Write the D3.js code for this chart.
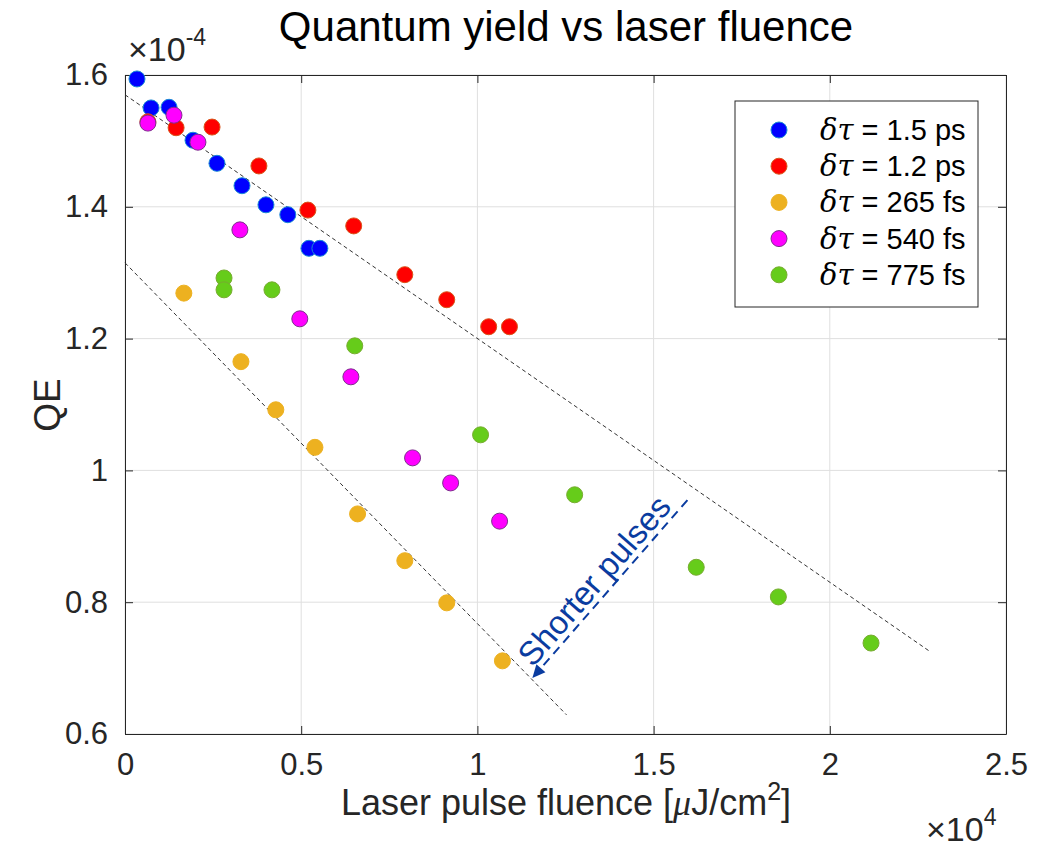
<!DOCTYPE html>
<html>
<head>
<meta charset="utf-8">
<script src="https://cdn.jsdelivr.net/npm/d3@7"></script>
<style>
  body { margin: 0; background: #fff; }
  svg { font-family: "Liberation Sans", Arial, Helvetica, sans-serif; }
</style>
</head>
<body>
<svg id="chart" width="1051" height="848"></svg>
<script>
// fluence in uJ/cm^2, QE in units of 1e-4
const fl_15ps = [340, 740, 1250, 1930, 2610, 3320, 4000, 4620, 5220, 5530];
const qe_15ps = [1.594, 1.550, 1.551, 1.501, 1.466, 1.432, 1.403, 1.388, 1.337, 1.337];

const fl_12ps = [650, 1450, 2470, 3800, 5190, 6490, 7940, 9130, 10320, 10910];
const qe_12ps = [1.529, 1.520, 1.521, 1.462, 1.395, 1.371, 1.297, 1.259, 1.218, 1.218];

const fl_265fs = [1670, 3290, 4280, 5390, 6600, 7940, 9130, 10710];
const qe_265fs = [1.269, 1.165, 1.092, 1.035, 0.934, 0.863, 0.799, 0.711];

const fl_540fs = [650, 1390, 2070, 3260, 4960, 6410, 8160, 9240, 10630];
const qe_540fs = [1.527, 1.539, 1.498, 1.365, 1.230, 1.142, 1.019, 0.981, 0.923];

const fl_775fs = [2810, 2810, 4170, 6520, 10090, 12760, 16210, 18540, 21170];
const qe_775fs = [1.292, 1.274, 1.274, 1.189, 1.054, 0.963, 0.853, 0.808, 0.738];

const seriesNames = ["1.5 ps", "1.2 ps", "265 fs", "540 fs", "775 fs"];
const seriesFill = ["#0000ff", "#ff0000", "#edb120", "#ff00ff", "#66cc1a"];
const seriesEdge = ["#1a8ad4", "#d95319", "#edb120", "#7e2f8e", "#77ac30"];
const seriesX = [fl_15ps, fl_12ps, fl_265fs, fl_540fs, fl_775fs];
const seriesY = [qe_15ps, qe_12ps, qe_265fs, qe_540fs, qe_775fs];

// guide lines (dashed) and annotation arrow
const fitUpperX = [0, 22820];
const fitUpperY = [1.570, 0.726];
const fitLowerX = [0, 12530];
const fitLowerY = [1.315, 0.629];
const arrowX = [15960, 11560];
const arrowY = [0.955, 0.685];

const xTicks = [0, 5000, 10000, 15000, 20000, 25000];
const yTicks = [0.6, 0.8, 1.0, 1.2, 1.4, 1.6];

const svg = d3.select("#chart");
const mLeft = 125, mRight = 1006, mTop = 75, mBottom = 734;

const x = d3.scaleLinear().domain([0, 25000]).range([mLeft, mRight]);
const y = d3.scaleLinear().domain([0.6, 1.6]).range([mBottom, mTop]);

// grid
const grid = svg.append("g");
grid.selectAll("line.gx").data(xTicks).join("line")
  .attr("x1", d => x(d)).attr("x2", d => x(d))
  .attr("y1", mTop).attr("y2", mBottom)
  .attr("stroke", "#dfdfdf").attr("stroke-width", 1);
grid.selectAll("line.gy").data(yTicks).join("line")
  .attr("y1", d => y(d)).attr("y2", d => y(d))
  .attr("x1", mLeft).attr("x2", mRight)
  .attr("stroke", "#dfdfdf").attr("stroke-width", 1);

// axes (MATLAB style, ticks inside)
const fmtX = d => d3.format("")(d / 10000);
const fmtY = d => (d === 1 ? "1" : d3.format(".1f")(d));

svg.append("g").attr("transform", `translate(0,${mBottom})`)
  .call(d3.axisBottom(x).tickValues(xTicks).tickFormat(fmtX).tickSizeInner(-8).tickSizeOuter(0).tickPadding(19))
  .call(g => g.select(".domain").attr("stroke", "#262626"))
  .call(g => g.selectAll("line").attr("stroke", "#262626"))
  .call(g => g.selectAll("text").attr("font-size", 31).attr("fill", "#262626").attr("font-family", "Liberation Sans, Arial"));

svg.append("g").attr("transform", `translate(${mLeft},0)`)
  .call(d3.axisLeft(y).tickValues(yTicks).tickFormat(fmtY).tickSizeInner(-8).tickSizeOuter(0).tickPadding(17))
  .call(g => g.select(".domain").attr("stroke", "#262626"))
  .call(g => g.selectAll("line").attr("stroke", "#262626"))
  .call(g => g.selectAll("text").attr("font-size", 31).attr("fill", "#262626").attr("font-family", "Liberation Sans, Arial"));

svg.append("g").attr("transform", `translate(0,${mTop})`)
  .call(d3.axisTop(x).tickValues(xTicks).tickFormat("").tickSizeInner(-8).tickSizeOuter(0))
  .call(g => g.selectAll("path,line").attr("stroke", "#262626"));
svg.append("g").attr("transform", `translate(${mRight},0)`)
  .call(d3.axisRight(y).tickValues(yTicks).tickFormat("").tickSizeInner(-8).tickSizeOuter(0))
  .call(g => g.selectAll("path,line").attr("stroke", "#262626"));

// dashed guide lines
const line = d3.line().x(d => x(d[0])).y(d => y(d[1]));
svg.append("path").datum(d3.zip(fitUpperX, fitUpperY)).attr("d", line)
  .attr("fill", "none").attr("stroke", "#333").attr("stroke-width", 1).attr("stroke-dasharray", "4,3");
svg.append("path").datum(d3.zip(fitLowerX, fitLowerY)).attr("d", line)
  .attr("fill", "none").attr("stroke", "#333").attr("stroke-width", 1).attr("stroke-dasharray", "4,3");

// points
seriesX.forEach((xs, i) => {
  svg.append("g").selectAll("circle").data(d3.zip(xs, seriesY[i])).join("circle")
    .attr("cx", d => x(d[0])).attr("cy", d => y(d[1])).attr("r", 8)
    .attr("fill", seriesFill[i]).attr("stroke", seriesEdge[i]).attr("stroke-width", 1);
});

// annotation arrow
const ax0 = x(arrowX[0]), ay0 = y(arrowY[0]), ax1 = x(arrowX[1]), ay1 = y(arrowY[1]);
const ang = Math.atan2(ay1 - ay0, ax1 - ax0);
const headLen = 13, headW = 6;
const bx = ax1 - headLen * Math.cos(ang), by = ay1 - headLen * Math.sin(ang);
svg.append("line").attr("x1", ax0).attr("y1", ay0).attr("x2", bx).attr("y2", by)
  .attr("stroke", "#0a3ca0").attr("stroke-width", 2).attr("stroke-dasharray", "9,6");
svg.append("path")
  .attr("d", `M${ax1},${ay1} L${bx + headW * Math.sin(ang)},${by - headW * Math.cos(ang)} L${bx - headW * Math.sin(ang)},${by + headW * Math.cos(ang)} Z`)
  .attr("fill", "#0a3ca0");
const deg = ang * 180 / Math.PI + 180;
const mx = (ax0 + ax1) / 2, my = (ay0 + ay1) / 2;
svg.append("text")
  .attr("transform", `translate(${mx},${my}) rotate(${deg})`)
  .attr("x", -4).attr("y", -6)
  .attr("text-anchor", "middle").attr("font-size", 33).attr("fill", "#0a3ca0")
  .text("Shorter pulses");

// legend
const lg = svg.append("g");
lg.append("rect").attr("x", 735).attr("y", 101).attr("width", 243).attr("height", 206)
  .attr("fill", "#fff").attr("stroke", "#262626").attr("stroke-width", 1);
seriesNames.forEach((name, i) => {
  const ly = 130 + i * 36.2;
  lg.append("circle").attr("cx", 779).attr("cy", ly).attr("r", 8)
    .attr("fill", seriesFill[i]).attr("stroke", seriesEdge[i]);
  const t = lg.append("text").attr("x", 820).attr("y", ly + 10).attr("font-size", 29).attr("fill", "#000");
  t.append("tspan").attr("font-family", "DejaVu Serif, Liberation Serif, serif").attr("font-style", "italic").text("δτ");
  t.append("tspan").text(" = " + name);
});

// title and labels
svg.append("text").attr("x", 566).attr("y", 41).attr("text-anchor", "middle")
  .attr("font-size", 42).attr("fill", "#000").text("Quantum yield vs laser fluence");

const xl = svg.append("text").attr("x", 566).attr("y", 815).attr("text-anchor", "middle")
  .attr("font-size", 36).attr("fill", "#262626");
xl.append("tspan").text("Laser pulse fluence [");
xl.append("tspan").attr("font-family", "Liberation Serif, serif").attr("font-style", "italic").text("μ");
xl.append("tspan").text("J/cm");
xl.append("tspan").attr("font-size", 25).attr("dy", -15).text("2");
xl.append("tspan").attr("dy", 15).text("]");

svg.append("text").attr("transform", "translate(60,405) rotate(-90)").attr("text-anchor", "middle")
  .attr("font-size", 37).attr("fill", "#262626").text("QE");

// exponent labels
const ex = svg.append("text").attr("x", 128).attr("y", 61).attr("font-size", 34).attr("fill", "#262626");
ex.append("tspan").text("×10");
ex.append("tspan").attr("font-size", 23).attr("dy", -16).text("-4");

const ex2 = svg.append("text").attr("x", 926).attr("y", 841).attr("font-size", 34).attr("fill", "#262626");
ex2.append("tspan").text("×10");
ex2.append("tspan").attr("font-size", 23).attr("dy", -16).text("4");
</script>
</body>
</html>
